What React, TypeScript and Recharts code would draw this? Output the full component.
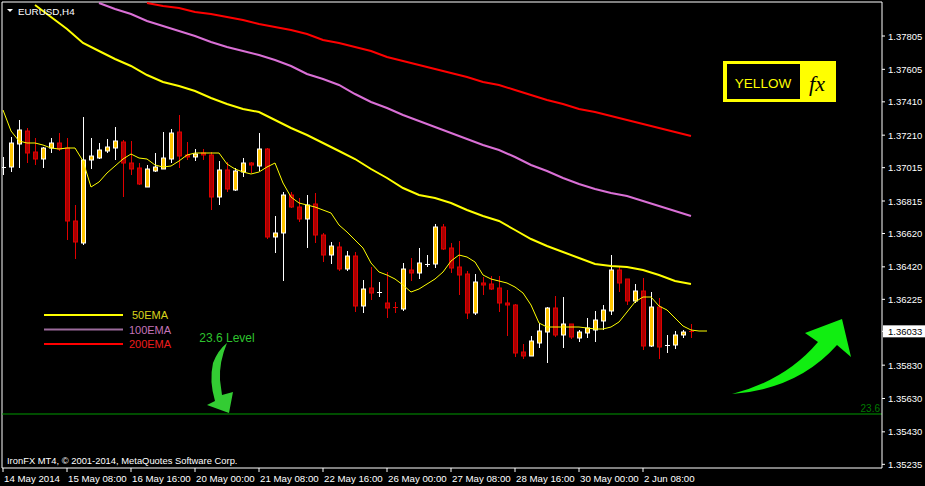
import React from 'react';
import { ComposedChart, Bar, Line, XAxis, YAxis, ReferenceLine } from 'recharts';

const W = 925;
const H = 486;

// bar index 0 = 14 May 2014 00:00, H4 bars
const xTickBars = [0, 8, 16, 24, 32, 40, 48, 56, 64, 72, 80];
const xLabels = [
  '14 May 2014', '15 May 08:00', '16 May 16:00', '20 May 00:00', '21 May 08:00', '22 May 16:00',
  '26 May 00:00', '27 May 08:00', '28 May 16:00', '30 May 00:00', '2 Jun 08:00',
];
const yTicks = [
  1.37805, 1.37605, 1.3741, 1.3721, 1.37015, 1.36815, 1.3662, 1.3642, 1.36225, 1.36033,
  1.3583, 1.3563, 1.3543, 1.35235,
];
const lastPrice = 1.36033;
const level236 = 1.35537;

const openPx = [
  1.37019, 1.37019, 1.37157, 1.37235, 1.37109, 1.37067, 1.37133, 1.37163, 1.37133, 1.36695,
  1.36563, 1.37061, 1.37073, 1.37115, 1.37133, 1.37169, 1.37043, 1.37013, 1.36899, 1.36995,
  1.37007, 1.37067, 1.37229, 1.37091, 1.37079, 1.37103, 1.37091, 1.36839, 1.37001, 1.36881,
  1.36989, 1.37043, 1.37025, 1.37127, 1.36599, 1.36623, 1.36851, 1.36779, 1.36707, 1.36797,
  1.36611, 1.36491, 1.36539, 1.36407, 1.36485, 1.36185, 1.36293, 1.36269, 1.36203, 1.36176,
  1.36167, 1.36401, 1.36383, 1.36437, 1.36437, 1.36659, 1.36533, 1.36419, 1.36377, 1.36143,
  1.36323, 1.36317, 1.36293, 1.36203, 1.36191, 1.35909, 1.35885, 1.35963, 1.36029, 1.36173,
  1.36011, 1.36077, 1.35993, 1.36023, 1.36041, 1.36095, 1.36155, 1.36401, 1.36347, 1.36215,
  1.36275, 1.35945, 1.36179, 1.35951, 1.35951, 1.36011, 1.36036,
];
const highPx = [
  1.37079, 1.37199, 1.37301, 1.37253, 1.37193, 1.37139, 1.37193, 1.37223, 1.37193, 1.36791,
  1.37319, 1.37193, 1.37163, 1.37187, 1.37259, 1.37181, 1.37175, 1.37043, 1.37031, 1.37103,
  1.37229, 1.37247, 1.37331, 1.37169, 1.37127, 1.37127, 1.37109, 1.37055, 1.37049, 1.37013,
  1.37073, 1.37049, 1.37223, 1.37133, 1.36725, 1.36869, 1.36869, 1.36833, 1.36851, 1.36863,
  1.36623, 1.36569, 1.36569, 1.36515, 1.36509, 1.36341, 1.36419, 1.36329, 1.36389, 1.36209,
  1.36443, 1.36473, 1.36533, 1.36491, 1.36677, 1.36677, 1.36563, 1.36575, 1.36395, 1.36377,
  1.36359, 1.36365, 1.36365, 1.36281, 1.36197, 1.35957, 1.36005, 1.36083, 1.36179, 1.36245,
  1.36239, 1.36077, 1.36041, 1.36113, 1.36155, 1.36191, 1.36491, 1.36419, 1.36347, 1.36317,
  1.36353, 1.36269, 1.36233, 1.36011, 1.36035, 1.36041, 1.36077,
];
const lowPx = [
  1.36971, 1.36989, 1.37013, 1.37043, 1.37031, 1.37013, 1.37103, 1.37115, 1.36581, 1.36467,
  1.36551, 1.37007, 1.37067, 1.37103, 1.37061, 1.36839, 1.36971, 1.36911, 1.36899, 1.36989,
  1.37007, 1.37043, 1.37013, 1.37061, 1.37055, 1.37061, 1.36761, 1.36791, 1.36869, 1.36875,
  1.36959, 1.36983, 1.36995, 1.36587, 1.36503, 1.36335, 1.36773, 1.36689, 1.36533, 1.36563,
  1.36449, 1.36437, 1.36395, 1.36395, 1.36149, 1.36143, 1.36221, 1.36239, 1.36113, 1.36143,
  1.36155, 1.36335, 1.36347, 1.36419, 1.36413, 1.36521, 1.36383, 1.36251, 1.36107, 1.36131,
  1.36251, 1.36281, 1.36149, 1.36005, 1.35879, 1.35867, 1.35885, 1.35933, 1.35843, 1.35999,
  1.35933, 1.35987, 1.35969, 1.35993, 1.35969, 1.36041, 1.36131, 1.36269, 1.36191, 1.36203,
  1.35921, 1.35939, 1.35867, 1.35903, 1.35927, 1.35993, 1.35993,
];
const closePx = [
  1.37019, 1.37163, 1.37241, 1.37103, 1.37067, 1.37133, 1.37163, 1.37127, 1.36695, 1.36569,
  1.37061, 1.37085, 1.37121, 1.37139, 1.37175, 1.37043, 1.37007, 1.36917, 1.37007, 1.37019,
  1.37073, 1.37223, 1.37085, 1.37079, 1.37097, 1.37091, 1.36839, 1.37001, 1.36887, 1.36995,
  1.37043, 1.37031, 1.37127, 1.36599, 1.36623, 1.36851, 1.36779, 1.36707, 1.36791, 1.36611,
  1.36491, 1.36545, 1.36407, 1.36485, 1.36185, 1.36287, 1.36263, 1.36269, 1.36173, 1.36173,
  1.36407, 1.36383, 1.36443, 1.36437, 1.36659, 1.36527, 1.36413, 1.36371, 1.36143, 1.36329,
  1.36311, 1.36287, 1.36203, 1.36191, 1.35903, 1.35885, 1.35975, 1.36035, 1.36173, 1.36011,
  1.36077, 1.35999, 1.36029, 1.36053, 1.36101, 1.36161, 1.36401, 1.36323, 1.36215, 1.36275,
  1.35945, 1.36179, 1.35939, 1.35951, 1.36011, 1.36029, 1.36033,
];

// thin yellow fast MA (shifted, runs 2 bars past the last candle)
const fastMa = [
  1.37361, 1.37235, 1.37175, 1.37163, 1.37163, 1.37151, 1.37133, 1.37127, 1.37133, 1.37133,
  1.37055, 1.36899, 1.36929, 1.36983, 1.37025, 1.37067, 1.37097, 1.37073, 1.37067, 1.37031,
  1.37019, 1.37025, 1.37055, 1.37091, 1.37103, 1.37103, 1.37103, 1.37103, 1.37037, 1.37007,
  1.36989, 1.36977, 1.36989, 1.37019, 1.37043, 1.36923, 1.36839, 1.36803, 1.36791, 1.36779,
  1.36761, 1.36743, 1.36671, 1.36629, 1.36581, 1.36533, 1.36443, 1.36389, 1.36371, 1.36347,
  1.36311, 1.36269, 1.36287, 1.36317, 1.36347, 1.36389, 1.36455, 1.36491, 1.36479, 1.36449,
  1.36371, 1.36347, 1.36335, 1.36323, 1.36299, 1.36263, 1.36191, 1.36083, 1.36059, 1.36059,
  1.36059, 1.36059, 1.36059, 1.36053, 1.36047, 1.36047, 1.36059, 1.36089, 1.36149, 1.36209,
  1.36239, 1.36239, 1.36185, 1.36161, 1.36113, 1.36065, 1.36041, 1.36035, 1.36035,
];

// slow EMAs read every second bar
const emaBars = [
  4, 6, 8, 10, 12, 14, 16, 18, 20, 22, 24, 26, 28, 30, 32, 34, 36, 38, 40, 42, 44,
  46, 48, 50, 52, 54, 56, 58, 60, 62, 64, 66, 68, 70, 72, 74, 76, 78, 80, 82, 84, 86,
];
const ema50 = [
  1.37991, 1.37919, 1.37847, 1.37763, 1.37715, 1.37667, 1.37625, 1.37571, 1.37529, 1.37505,
  1.37475, 1.37433, 1.37397, 1.37367, 1.37349, 1.37301, 1.37253, 1.37211, 1.37163, 1.37115,
  1.37067, 1.37007, 1.36953, 1.36893, 1.36851, 1.36833, 1.36803, 1.36761, 1.36725, 1.36695,
  1.36641, 1.36587, 1.36545, 1.36509, 1.36473, 1.36437, 1.36425, 1.36419, 1.36401, 1.36371,
  1.36335, 1.36317,
];
const ema100 = [
  null, null, null, null, 1.38003, 1.37967, 1.37937, 1.37895, 1.37865, 1.37835,
  1.37805, 1.37769, 1.37739, 1.37715, 1.37691, 1.37661, 1.37625, 1.37577, 1.37547, 1.37511,
  1.37457, 1.37409, 1.37373, 1.37331, 1.37295, 1.37259, 1.37223, 1.37187, 1.37151, 1.37121,
  1.37079, 1.37031, 1.36995, 1.36953, 1.36917, 1.36887, 1.36863, 1.36845, 1.36815, 1.36785,
  1.36755, 1.36725,
];
const ema200 = [
  null, null, null, null, null, null, null, 1.38003, 1.37985, 1.37973,
  1.37949, 1.37937, 1.37919, 1.37901, 1.37877, 1.37859, 1.37841, 1.37817, 1.37781, 1.37763,
  1.37739, 1.37715, 1.37679, 1.37655, 1.37631, 1.37607, 1.37583, 1.37559, 1.37529, 1.37511,
  1.37481, 1.37451, 1.37421, 1.37397, 1.37367, 1.37349, 1.37325, 1.37301, 1.37277, 1.37253,
  1.37229, 1.37205,
];

const legendItems = [
  { name: '50EMA', line: '#ffff00', text: '#d8d41c' },
  { name: '100EMA', line: '#9c6b9c', text: '#c474b8' },
  { name: '200EMA', line: '#ff0000', text: '#ee1c1c' },
];

const rows = fastMa.map((fast, i) => {
  const e = emaBars.indexOf(i);
  return {
    i,
    open: openPx[i] ?? null,
    high: highPx[i] ?? null,
    low: lowPx[i] ?? null,
    close: closePx[i] ?? null,
    fast,
    e50: e >= 0 ? ema50[e] : null,
    e100: e >= 0 ? ema100[e] : null,
    e200: e >= 0 ? ema200[e] : null,
  };
});

const BULL_FILL = '#ffc600';
const BULL_LINE = '#ffffff';
const BEAR_FILL = '#a80000';
const BEAR_LINE = '#e00000';

function Candle(props: any) {
  const { x, y, width, height, payload } = props;
  if (!payload || payload.high == null || !isFinite(y)) return null;
  const { open, high, low, close } = payload;
  const top = Math.min(y, y + height);
  const bottom = Math.max(y, y + height);
  const span = high - low;
  const toY = (v: number) => (span === 0 ? top : top + ((high - v) / span) * (bottom - top));
  const cx = Math.round(x + width / 2);
  const bear = close < open;
  const line = bear ? BEAR_LINE : BULL_LINE;
  const yo = toY(open);
  const yc = toY(close);
  const bTop = Math.min(yo, yc);
  const bBot = Math.max(yo, yc);
  return (
    <g>
      <line x1={cx + 0.5} x2={cx + 0.5} y1={top} y2={bottom} stroke={line} strokeWidth={1} />
      {bBot - bTop < 1.2 ? (
        <line x1={cx - 2} x2={cx + 3} y1={Math.round(bTop) + 0.5} y2={Math.round(bTop) + 0.5} stroke={line} strokeWidth={1} />
      ) : (
        <rect x={cx - 1.5} y={bTop} width={4} height={bBot - bTop} fill={bear ? BEAR_FILL : BULL_FILL} stroke={line} strokeWidth={1} />
      )}
    </g>
  );
}

function PriceTick({ x, y, payload }: any) {
  const v = payload.value;
  const cur = Math.abs(v - lastPrice) < 1e-7;
  return (
    <g>
      {cur && <rect x={x - 5} y={y - 6} width={45} height={12} fill="#ffffff" />}
      <text x={x} y={y} dy={3.5} fill={cur ? '#000000' : '#ffffff'} fontSize={9.5} textAnchor="start">
        {v.toFixed(5)}
      </text>
    </g>
  );
}

function DateTick({ x, y, payload }: any) {
  const idx = xTickBars.indexOf(payload.value);
  return (
    <text x={x + 1} y={y} dy={8} fill="#ffffff" fontSize={9.7} textAnchor="start">
      {xLabels[idx]}
    </text>
  );
}

function Overlay() {
  return (
    <svg width={W} height={H} style={{ position: 'absolute', left: 0, top: 0, pointerEvents: 'none' }}
      fontFamily="'Liberation Sans', Arial, sans-serif">
      <polygon points="7,9 13,9 10,12" fill="#ffffff" />
      <text x={18} y={15} fontSize={9.8} fill="#ffffff">EURUSD,H4</text>
      <text x={7} y={464} fontSize={9.4} fill="#ffffff">IronFX MT4, © 2001-2014, MetaQuotes Software Corp.</text>

      {legendItems.map((it, n) => (
        <g key={it.name}>
          <line x1={44} x2={123} y1={315 + n * 14.5} y2={315 + n * 14.5} stroke={it.line} strokeWidth={2} />
          <text x={150} y={319 + n * 14.5} fontSize={11} fill={it.text} textAnchor="middle">{it.name}</text>
        </g>
      ))}

      <text x={227} y={342} fontSize={12} fill="#2ec42e" textAnchor="middle">23.6 Level</text>
      <path d="M227,343 Q219,362 220,380 L222,395 L233,392 L229,413 L207,405 L215,401 Q209,381 213,363 Q218,350 227,343 Z"
        fill="#33cc33" />
      <path d="M732,394 Q786,380 818,342 L805,333 L842,319 L851,357 L837,345 Q798,389 732,394 Z" fill="#11ee11" />

      <rect x={723} y={61} width={113} height={41} fill="#ffff00" />
      <rect x={727} y={64} width={73} height={35} fill="#000000" />
      <text x={763} y={88} fontSize={13.5} fill="#ffff00" textAnchor="middle">YELLOW</text>
      <text x={817} y={91} fontSize={22} fontStyle="italic" fill="#000000" textAnchor="middle"
        fontFamily="'Liberation Serif', serif">fx</text>
    </svg>
  );
}

export default function App() {
  return (
    <div style={{ position: 'absolute', left: 0, top: 0, width: W, height: H, background: '#000000' }}>
      <ComposedChart
        width={W}
        height={H}
        data={rows}
        margin={{ top: 2, right: 0, bottom: 0, left: 2 }}
        style={{ fontFamily: "'Liberation Sans', Arial, sans-serif" }}
      >
        <XAxis
          dataKey="i"
          type="number"
          domain={[-0.125, 109.875]}
          allowDataOverflow
          ticks={xTickBars}
          interval={0}
          height={18}
          tickSize={4}
          tickMargin={2}
          stroke="#ffffff"
          tick={<DateTick />}
        />
        <YAxis
          orientation="right"
          type="number"
          domain={[1.35213, 1.38009]}
          allowDataOverflow
          ticks={yTicks}
          interval={0}
          width={43}
          tickSize={3}
          tickMargin={3}
          stroke="#ffffff"
          tick={<PriceTick />}
        />
        <ReferenceLine x={-0.125} stroke="#ffffff" />
        <ReferenceLine y={1.38009} stroke="#ffffff" />
        <ReferenceLine
          y={level236}
          stroke="#009a00"
          label={{ value: '23.6', position: 'insideBottomRight', offset: 2, fill: '#007a00', fontSize: 10 }}
        />
        <Line dataKey="e200" name="200EMA" stroke="#ff0000" strokeWidth={2} dot={false} connectNulls isAnimationActive={false} />
        <Line dataKey="e100" name="100EMA" stroke="#da70d6" strokeWidth={2} dot={false} connectNulls isAnimationActive={false} />
        <Line dataKey="e50" name="50EMA" stroke="#ffff00" strokeWidth={2} dot={false} connectNulls isAnimationActive={false} />
        <Line dataKey="fast" stroke="#ffff00" strokeWidth={1} dot={false} legendType="none" isAnimationActive={false} />
        <Bar
          dataKey={(d: any) => (d.high == null ? null : [d.low, d.high])}
          shape={<Candle />}
          barSize={5}
          legendType="none"
          isAnimationActive={false}
        />
      </ComposedChart>
      <Overlay />
    </div>
  );
}
